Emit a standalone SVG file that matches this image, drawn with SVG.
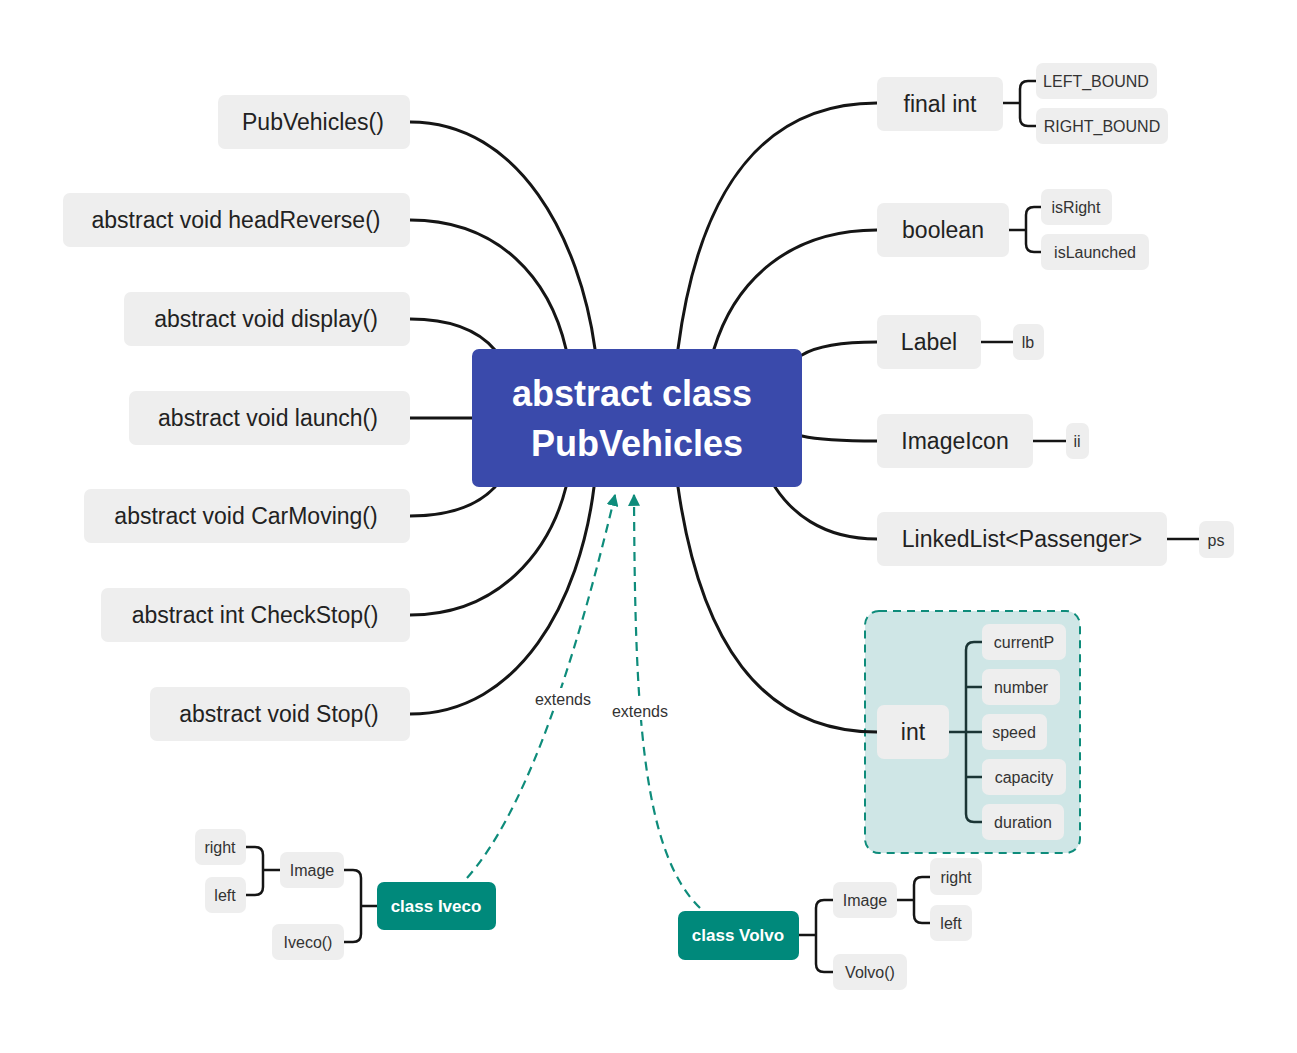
<svg xmlns="http://www.w3.org/2000/svg" width="1297" height="1053" viewBox="0 0 1297 1053">
<style>
text{font-family:"Liberation Sans",Arial,sans-serif;fill:#222}
.n{fill:#eeeeee}
.t1{font-size:23px;text-anchor:middle;dominant-baseline:central}
.t2{font-size:16px;text-anchor:middle;dominant-baseline:central;fill:#333}
.c{fill:none;stroke:#151515;stroke-width:3;stroke-linecap:round}
.b{fill:none;stroke:#151515;stroke-width:2.5}
.bd{fill:none;stroke:#1b3535;stroke-width:2.5}
.d{fill:none;stroke:#0e8c7b;stroke-width:2.2;stroke-dasharray:9,6}
.lbl{font-size:16px;text-anchor:middle;fill:#333}
.cls{fill:#00897b}
.ct{font-size:17px;font-weight:700;fill:#fff;text-anchor:middle;dominant-baseline:central}
</style>
<defs>
<marker id="ar" viewBox="0 0 10 10" refX="9" refY="5" markerWidth="5.5" markerHeight="5.5" orient="auto"><path d="M0,0L10,5L0,10z" fill="#0e8c7b"/></marker>
</defs>
<rect width="1297" height="1053" fill="#fff"/>
<g id="intgroup">
<rect x="865" y="611" width="215" height="242" rx="14" fill="#cfe6e6" stroke="#0e8c7b" stroke-width="2" stroke-dasharray="8,6"/>
</g>
<g id="connectors">
<path class="c" d="M410,122 C520,122 580,240 595,349"/>
<path class="c" d="M410,220 C500,220 550,280 566,349"/>
<path class="c" d="M410,319 C450,319 478,330 495,350"/>
<path class="c" d="M410,418 L472,418"/>
<path class="c" d="M410,516 C450,516 478,505 495,487"/>
<path class="c" d="M410,615 C500,615 550,550 566,487"/>
<path class="c" d="M410,714 C520,714 580,600 594,487"/>
<path class="c" d="M877,103 C770,103 700,180 678,349"/>
<path class="c" d="M877,230 C790,230 735,280 714,349"/>
<path class="c" d="M877,342 C840,342 815,347 802,355"/>
<path class="c" d="M877,441 C840,441 815,439 802,436"/>
<path class="c" d="M877,539 C820,539 790,510 775,487"/>
<path class="c" d="M877,732 C760,732 700,640 678,487"/>
<path class="b" d="M1003,103 H1020 M1036,81 H1028 Q1020,81 1020,89 V118 Q1020,126 1028,126 H1036"/>
<path class="b" d="M1009,230 H1026 M1041,207 H1034 Q1026,207 1026,215 V244 Q1026,252 1034,252 H1041"/>
<path class="b" d="M981,342 H1013"/>
<path class="b" d="M1033,441 H1066"/>
<path class="b" d="M1167,539 H1199"/>
<path class="bd" d="M949,732 H982 M982,642 H974 Q966,642 966,650 V814 Q966,822 974,822 H982 M966,777 H982 M966,687 H982"/>
<path class="b" d="M377,906 H361 M344,870 H353 Q361,870 361,878 V934 Q361,942 353,942 H344"/>
<path class="b" d="M280,870 H263 M246,847 H255 Q263,847 263,855 V887 Q263,895 255,895 H246"/>
<path class="b" d="M799,935 H816 M833,900 H824 Q816,900 816,908 V964 Q816,972 824,972 H833"/>
<path class="b" d="M897,900 H914 M930,877 H922 Q914,877 914,885 V915 Q914,923 922,923 H930"/>
<path class="d" d="M467,878 Q545,790 615,495" marker-end="url(#ar)"/>
<path class="d" d="M700,908 C640,850 635,700 634,495" marker-end="url(#ar)"/>
<rect x="532" y="688" width="62" height="20" fill="#fff"/>
<rect x="608" y="700" width="64" height="20" fill="#fff"/>
<text class="lbl" x="563" y="705">extends</text>
<text class="lbl" x="640" y="717">extends</text>
</g>
<g id="root">
<rect x="472" y="349" width="330" height="138" rx="7" fill="#3a4aab"/>
<text x="632" y="406" font-size="36" font-weight="700" text-anchor="middle" style="fill:#fff">abstract class</text>
<text x="637" y="456" font-size="36" font-weight="700" text-anchor="middle" style="fill:#fff">PubVehicles</text>
</g>
<g id="n-pubvehicles"><rect class="n" x="218" y="95" width="192" height="54" rx="7"/><text class="t1" x="313" y="122">PubVehicles()</text></g>
<g id="n-headreverse"><rect class="n" x="63" y="193" width="347" height="54" rx="7"/><text class="t1" x="236" y="220">abstract void headReverse()</text></g>
<g id="n-display"><rect class="n" x="124" y="292" width="286" height="54" rx="7"/><text class="t1" x="266" y="319">abstract void display()</text></g>
<g id="n-launch"><rect class="n" x="129" y="391" width="281" height="54" rx="7"/><text class="t1" x="268" y="418">abstract void launch()</text></g>
<g id="n-carmoving"><rect class="n" x="84" y="489" width="326" height="54" rx="7"/><text class="t1" x="246" y="516">abstract void CarMoving()</text></g>
<g id="n-checkstop"><rect class="n" x="101" y="588" width="309" height="54" rx="7"/><text class="t1" x="255" y="615">abstract int CheckStop()</text></g>
<g id="n-stop"><rect class="n" x="150" y="687" width="260" height="54" rx="7"/><text class="t1" x="279" y="714">abstract void Stop()</text></g>
<g id="n-finalint"><rect class="n" x="877" y="77" width="126" height="54" rx="7"/><text class="t1" x="940" y="104">final int</text></g>
<g id="n-leftbound"><rect class="n" x="1036" y="63" width="121" height="36" rx="7"/><text class="t2" x="1096" y="81">LEFT_BOUND</text></g>
<g id="n-rightbound"><rect class="n" x="1036" y="108" width="132" height="36" rx="7"/><text class="t2" x="1102" y="126">RIGHT_BOUND</text></g>
<g id="n-boolean"><rect class="n" x="877" y="203" width="132" height="54" rx="7"/><text class="t1" x="943" y="230">boolean</text></g>
<g id="n-isright"><rect class="n" x="1041" y="189" width="71" height="36" rx="7"/><text class="t2" x="1076" y="207">isRight</text></g>
<g id="n-islaunched"><rect class="n" x="1041" y="234" width="108" height="36" rx="7"/><text class="t2" x="1095" y="252">isLaunched</text></g>
<g id="n-label"><rect class="n" x="877" y="315" width="104" height="54" rx="7"/><text class="t1" x="929" y="342">Label</text></g>
<g id="n-lb"><rect class="n" x="1013" y="324" width="31" height="36" rx="7"/><text class="t2" x="1028" y="342">lb</text></g>
<g id="n-imageicon"><rect class="n" x="877" y="414" width="156" height="54" rx="7"/><text class="t1" x="955" y="441">ImageIcon</text></g>
<g id="n-ii"><rect class="n" x="1066" y="423" width="23" height="36" rx="7"/><text class="t2" x="1077" y="441">ii</text></g>
<g id="n-linkedlist"><rect class="n" x="877" y="512" width="290" height="54" rx="7"/><text class="t1" x="1022" y="539">LinkedList&lt;Passenger&gt;</text></g>
<g id="n-ps"><rect class="n" x="1199" y="521" width="35" height="37" rx="7"/><text class="t2" x="1216" y="540">ps</text></g>
<g id="n-int"><rect class="n" x="877" y="705" width="72" height="54" rx="7"/><text class="t1" x="913" y="732">int</text></g>
<g id="n-currentp"><rect class="n" x="982" y="624" width="84" height="36" rx="7"/><text class="t2" x="1024" y="642">currentP</text></g>
<g id="n-number"><rect class="n" x="982" y="669" width="78" height="36" rx="7"/><text class="t2" x="1021" y="687">number</text></g>
<g id="n-speed"><rect class="n" x="982" y="714" width="65" height="36" rx="7"/><text class="t2" x="1014" y="732">speed</text></g>
<g id="n-capacity"><rect class="n" x="982" y="759" width="84" height="36" rx="7"/><text class="t2" x="1024" y="777">capacity</text></g>
<g id="n-duration"><rect class="n" x="982" y="804" width="82" height="36" rx="7"/><text class="t2" x="1023" y="822">duration</text></g>
<g id="n-iveco"><rect class="cls" x="377" y="882" width="119" height="48" rx="7"/><text class="ct" x="436" y="906">class Iveco</text></g>
<g id="n-iveco-image"><rect class="n" x="280" y="852" width="64" height="36" rx="7"/><text class="t2" x="312" y="870">Image</text></g>
<g id="n-iveco-ctor"><rect class="n" x="272" y="924" width="72" height="36" rx="7"/><text class="t2" x="308" y="942">Iveco()</text></g>
<g id="n-iveco-right"><rect class="n" x="195" y="829" width="51" height="36" rx="7"/><text class="t2" x="220" y="847">right</text></g>
<g id="n-iveco-left"><rect class="n" x="205" y="877" width="41" height="36" rx="7"/><text class="t2" x="225" y="895">left</text></g>
<g id="n-volvo"><rect class="cls" x="678" y="911" width="121" height="49" rx="7"/><text class="ct" x="738" y="935">class Volvo</text></g>
<g id="n-volvo-image"><rect class="n" x="833" y="882" width="64" height="36" rx="7"/><text class="t2" x="865" y="900">Image</text></g>
<g id="n-volvo-ctor"><rect class="n" x="833" y="954" width="74" height="36" rx="7"/><text class="t2" x="870" y="972">Volvo()</text></g>
<g id="n-volvo-right"><rect class="n" x="930" y="858" width="52" height="37" rx="7"/><text class="t2" x="956" y="877">right</text></g>
<g id="n-volvo-left"><rect class="n" x="930" y="905" width="42" height="36" rx="7"/><text class="t2" x="951" y="923">left</text></g>
</svg>
